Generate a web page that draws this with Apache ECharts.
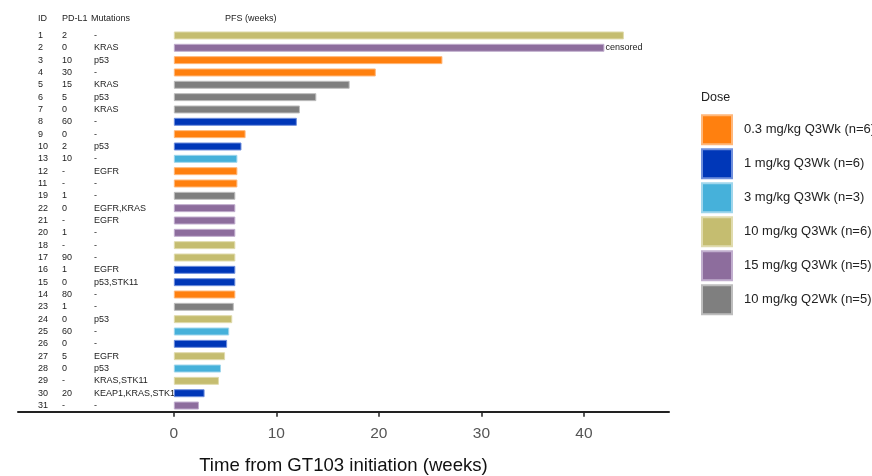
<!DOCTYPE html>
<html>
<head>
<meta charset="utf-8">
<script src="https://cdn.jsdelivr.net/npm/echarts@6/dist/echarts.min.js"></script>
<style>
  html, body { margin: 0; padding: 0; background: #fff; }
  #chart { width: 872px; height: 476px; }
</style>
</head>
<body>
<div id="chart"></div>
<script>
// Patients, in plotted order (longest PFS first)
const patientIds = ['1','2','3','4','5','6','7','8','9','10','13','12','11','19','22','21','20','18','17','16','15','14','23','24','25','26','27','28','29','30','31'];
const pdl1 = ['2','0','10','30','15','5','0','60','0','2','10','-','-','1','0','-','1','-','90','1','0','80','1','0','60','0','5','0','-','20','-'];
const mutations = ['-','KRAS','p53','-','KRAS','p53','KRAS','-','-','p53','-','EGFR','-','-','EGFR,KRAS','EGFR','-','-','-','EGFR','p53,STK11','-','-','p53','-','-','EGFR','p53','KRAS,STK11','KEAP1,KRAS,STK11','-'];
// Progression-free survival, weeks
const pfsWeeks = [43.9,42.0,26.2,19.7,17.15,13.9,12.3,12.0,7.0,6.6,6.2,6.2,6.2,6.0,6.0,6.0,6.0,6.0,6.0,6.0,6.0,6.0,5.85,5.7,5.4,5.2,5.0,4.6,4.4,3.0,2.45];
// Dose group of each patient (index into doseGroups)
const doseOfPatient = [3,4,0,0,5,5,5,1,0,1,2,0,0,5,4,4,4,3,3,1,1,0,5,3,2,1,3,2,3,1,4];
const censoredIds = ['2'];

const doseGroups = ['0.3 mg/kg Q3Wk (n=6)','1 mg/kg Q3Wk (n=6)','3 mg/kg Q3Wk (n=3)','10 mg/kg Q3Wk (n=6)','15 mg/kg Q3Wk (n=5)','10 mg/kg Q2Wk (n=5)'];
const doseColors = ['#ff800f','#0037b8','#46b1da','#c5bd70','#8d6d9d','#7f7f7f'];
const doseBorders = ['#ffb77a','#6f8fdc','#9fd6ec','#e0dbad','#c1aece','#bdbdbd'];

const xTicks = [0,10,20,30,40];
const tableHeader = ['ID','PD-L1','Mutations'];
const barHeader = 'PFS (weeks)';

const FONT = 'Liberation Sans, Arial, sans-serif';

const series = doseGroups.map((name, g) => ({
  name: name,
  type: 'bar',
  stack: 'pfs',
  barWidth: 8,
  itemStyle: { color: doseColors[g], borderColor: doseBorders[g], borderWidth: 1 },
  data: pfsWeeks.map((v, i) => {
    if (doseOfPatient[i] !== g) return null;
    const item = { value: v };
    if (censoredIds.includes(patientIds[i])) {
      item.label = {
        show: true, position: 'right', distance: 1,
        formatter: 'censored', color: '#222', fontSize: 9, fontFamily: FONT
      };
    }
    return item;
  })
}));

const headerText = (text, left) => ({
  type: 'text', left: left, top: 14,
  style: { text: text, fontSize: 9, fill: '#222', fontFamily: FONT }
});

const chart = echarts.init(document.getElementById('chart'));
chart.setOption({
  animation: false,
  backgroundColor: '#fff',
  textStyle: { fontFamily: FONT },
  grid: { left: 18, right: 203, top: 29.3, bottom: 64.3, outerBoundsMode: 'none' },
  xAxis: {
    type: 'value',
    min: -15.2,
    max: 48.3,
    name: 'Time from GT103 initiation (weeks)',
    nameLocation: 'middle',
    nameGap: 45,
    nameTextStyle: { fontSize: 18.6, color: '#111' },
    axisLine: { show: true, lineStyle: { color: '#222', width: 2 } },
    axisTick: { show: true, customValues: xTicks, length: 5, lineStyle: { color: '#222', width: 1.5 } },
    axisLabel: { customValues: xTicks, fontSize: 15.5, color: '#555', margin: 14 },
    splitLine: { show: false }
  },
  yAxis: {
    type: 'category',
    inverse: true,
    data: patientIds,
    axisLine: { show: false, onZero: false },
    axisTick: { show: false },
    axisLabel: {
      inside: true,
      margin: 20,
      interval: 0,
      fontSize: 9,
      color: '#222',
      formatter: (id, i) => `{id|${id}}{pd|${pdl1[i]}}{mut|${mutations[i]}}`,
      rich: {
        id: { width: 24, fontSize: 9, color: '#222' },
        pd: { width: 32, fontSize: 9, color: '#222' },
        mut: { fontSize: 9, color: '#222' }
      }
    }
  },
  legend: {
    orient: 'vertical',
    left: 701,
    top: 114.3,
    padding: 0,
    itemWidth: 30,
    itemHeight: 29,
    itemGap: 3,
    icon: 'rect',
    selectedMode: false,
    data: doseGroups,
    textStyle: { fontSize: 13, color: '#222', padding: [0, 0, 0, 7] }
  },
  graphic: [
    { type: 'text', left: 701, top: 91, style: { text: 'Dose', fontSize: 12.5, fill: '#222', fontFamily: FONT } },
    headerText(tableHeader[0], 38),
    headerText(tableHeader[1], 62),
    headerText(tableHeader[2], 91),
    headerText(barHeader, 225)
  ],
  series: series
});
</script>
</body>
</html>
